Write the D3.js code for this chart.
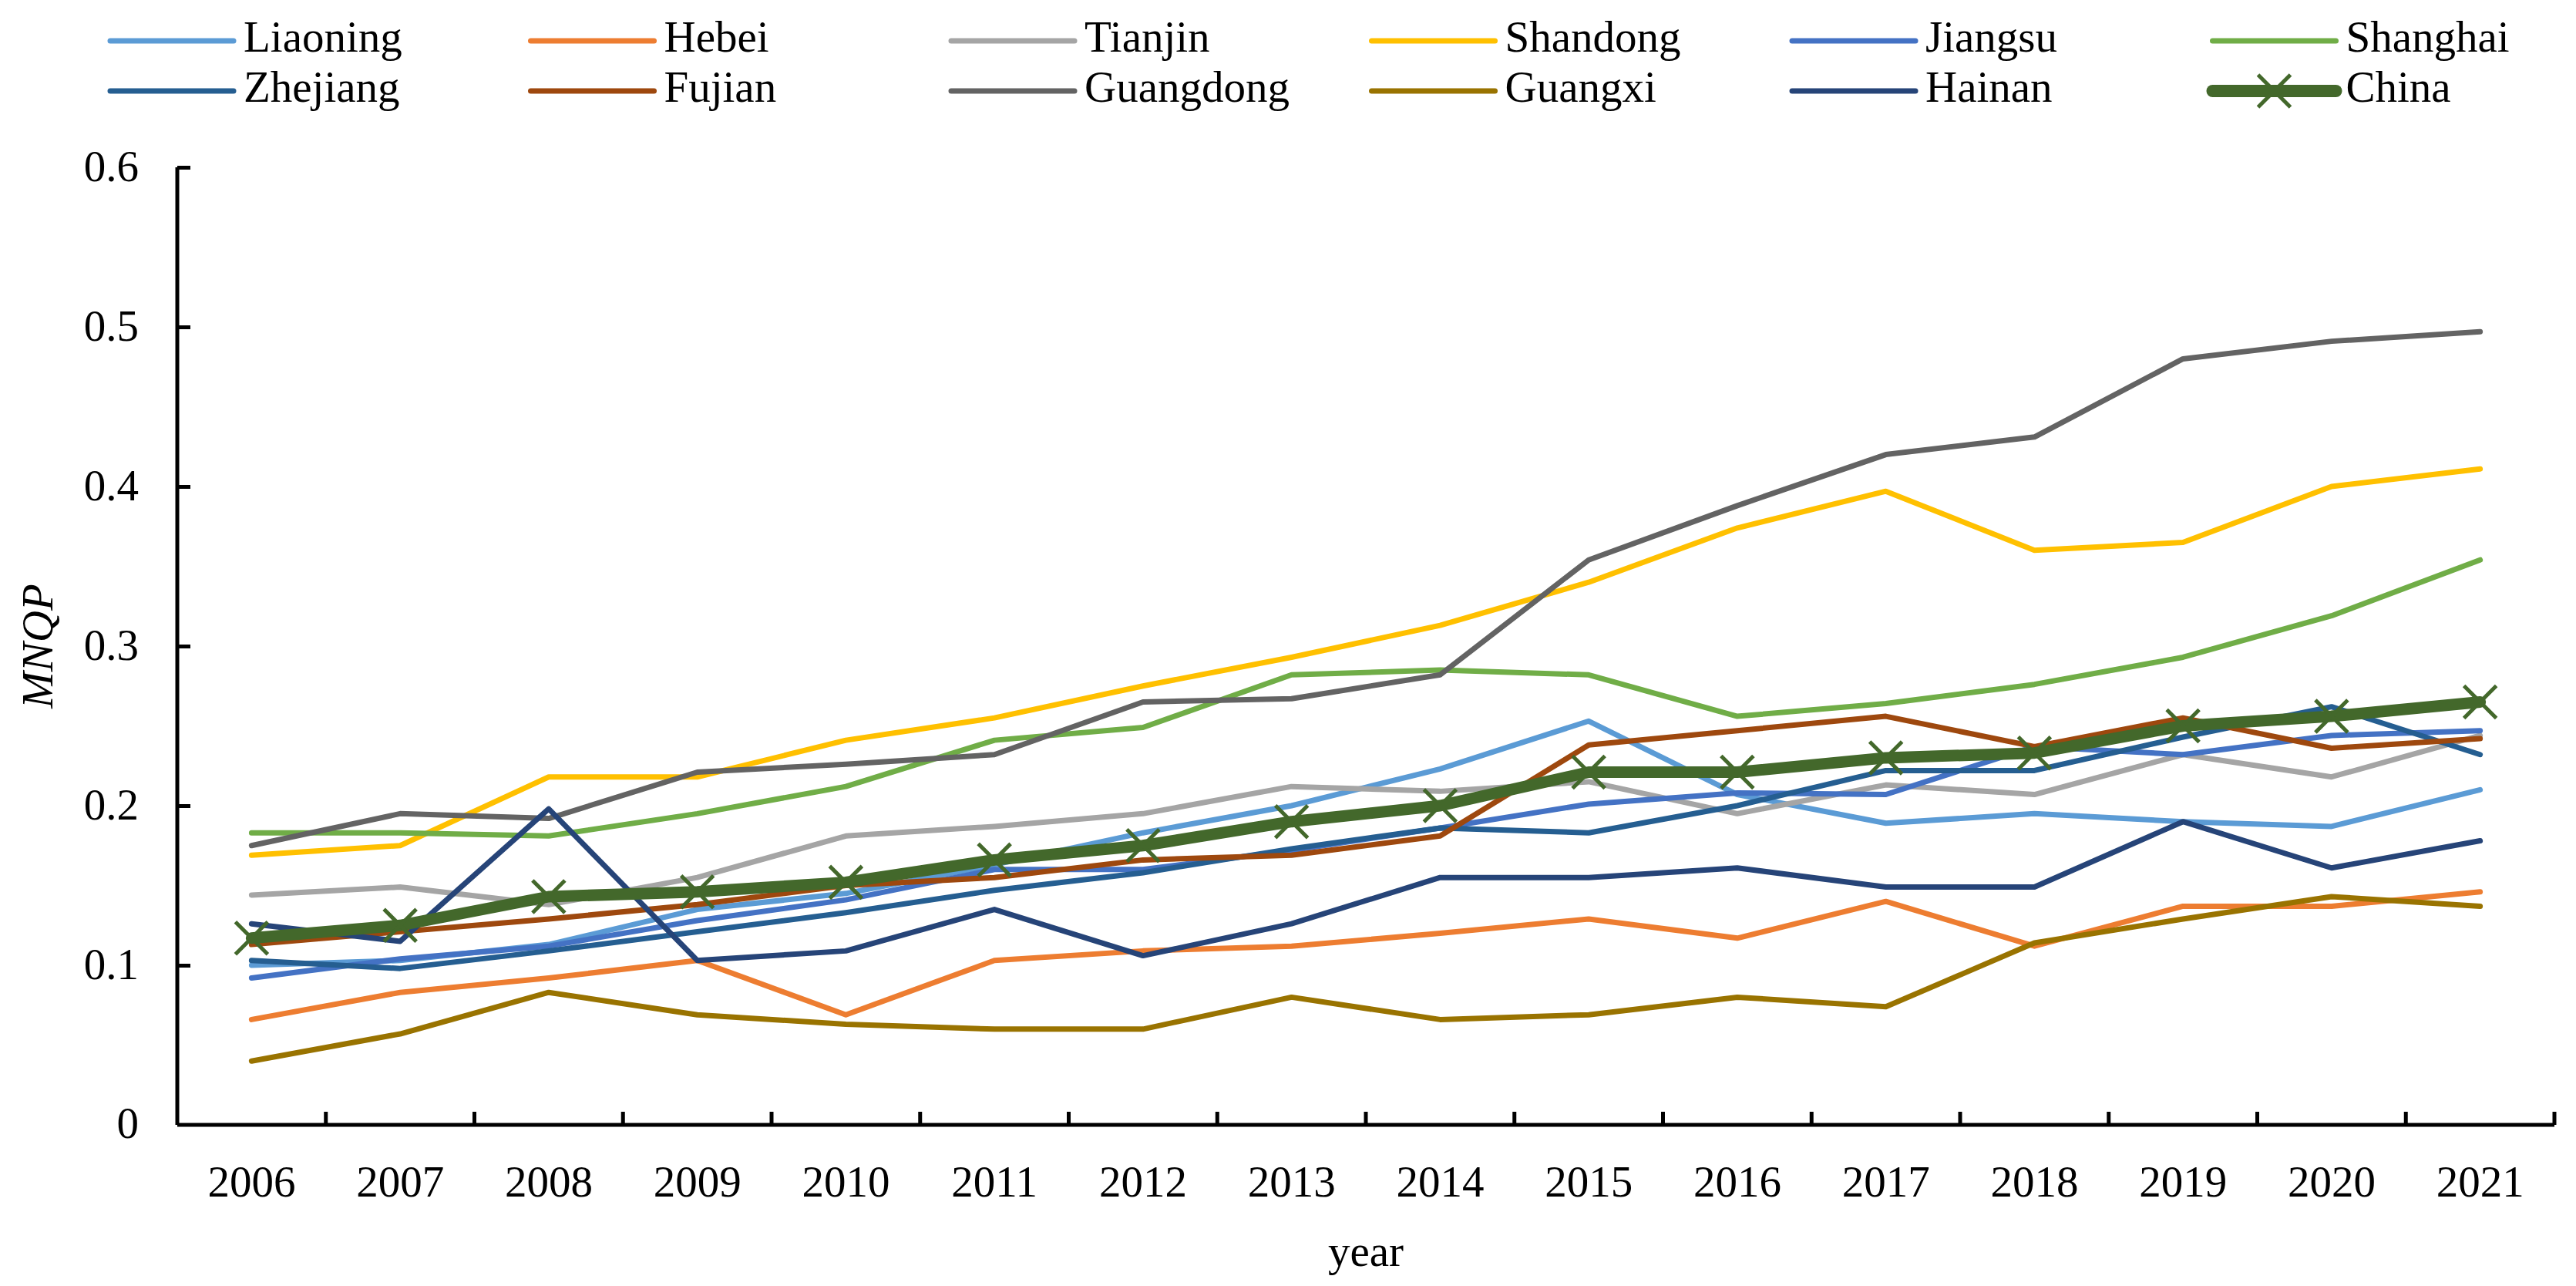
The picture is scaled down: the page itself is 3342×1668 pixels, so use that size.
<!DOCTYPE html>
<html>
<head>
<meta charset="utf-8">
<script src="https://cdn.jsdelivr.net/npm/d3@7"></script>
<style>
  html, body { margin: 0; padding: 0; background: #fff; }
  svg { display: block; font-family: "Liberation Serif", "Times New Roman", serif; }
</style>
</head>
<body>
<svg id="chart" width="3342" height="1668"></svg>
<script>
// ---- data ----
const years = ["2006","2007","2008","2009","2010","2011","2012","2013","2014","2015","2016","2017","2018","2019","2020","2021"];
const seriesNames = ["Liaoning","Hebei","Tianjin","Shandong","Jiangsu","Shanghai","Zhejiang","Fujian","Guangdong","Guangxi","Hainan","China"];
const seriesColors = ["#5B9BD5","#ED7D31","#A5A5A5","#FFC000","#4472C4","#70AD47","#255E91","#9E480E","#636363","#997300","#264478","#43682B"];
const liaoning  = [0.100,0.103,0.113,0.135,0.145,0.163,0.183,0.200,0.223,0.253,0.207,0.189,0.195,0.190,0.187,0.210];
const hebei     = [0.066,0.083,0.092,0.103,0.069,0.103,0.109,0.112,0.120,0.129,0.117,0.140,0.112,0.137,0.137,0.146];
const tianjin   = [0.144,0.149,0.138,0.155,0.181,0.187,0.195,0.212,0.209,0.215,0.195,0.213,0.207,0.232,0.218,0.244];
const shandong  = [0.169,0.175,0.218,0.218,0.241,0.255,0.275,0.293,0.313,0.340,0.374,0.397,0.360,0.365,0.400,0.411];
const jiangsu   = [0.092,0.104,0.112,0.128,0.141,0.160,0.160,0.172,0.186,0.201,0.208,0.207,0.237,0.232,0.244,0.247];
const shanghai  = [0.183,0.183,0.181,0.195,0.212,0.241,0.249,0.282,0.285,0.282,0.256,0.264,0.276,0.293,0.319,0.354];
const zhejiang  = [0.103,0.098,0.109,0.121,0.133,0.147,0.158,0.173,0.186,0.183,0.200,0.222,0.222,0.243,0.262,0.232];
const fujian    = [0.113,0.121,0.129,0.138,0.150,0.155,0.166,0.169,0.181,0.238,0.247,0.256,0.237,0.255,0.236,0.242];
const guangdong = [0.175,0.195,0.192,0.221,0.226,0.232,0.265,0.267,0.282,0.354,0.388,0.420,0.431,0.480,0.491,0.497];
const guangxi   = [0.040,0.057,0.083,0.069,0.063,0.060,0.060,0.080,0.066,0.069,0.080,0.074,0.114,0.129,0.143,0.137];
const hainan    = [0.126,0.115,0.198,0.103,0.109,0.135,0.106,0.126,0.155,0.155,0.161,0.149,0.149,0.190,0.161,0.178];
const china     = [0.117,0.125,0.143,0.146,0.152,0.166,0.175,0.190,0.200,0.221,0.221,0.230,0.233,0.250,0.256,0.265];
const yTicks = [0, 0.1, 0.2, 0.3, 0.4, 0.5, 0.6];
const yTickLabels = ["0","0.1","0.2","0.3","0.4","0.5","0.6"];
const xTitle = "year";
const yTitle = "MNQP";

const seriesValues = [liaoning,hebei,tianjin,shandong,jiangsu,shanghai,zhejiang,fujian,guangdong,guangxi,hainan,china];
const series = seriesNames.map((n,i) => ({name:n, color:seriesColors[i], values:seriesValues[i], isChina: n === "China"}));

// ---- layout ----
const svg = d3.select("#chart");
const pL = 230, pR = 3314, pT = 217, pB = 1459;

const x = d3.scaleBand().domain(years).range([pL, pR]).padding(0);
const y = d3.scaleLinear().domain([0, 0.6]).range([pB, pT]);
const cx = d => x(d) + x.bandwidth() / 2;

const FS = 57;

// lines
const line = d3.line().x((d,i) => cx(years[i])).y(d => y(d));
const gLines = svg.append("g");
series.forEach(s => {
  gLines.append("path")
    .attr("d", line(s.values))
    .attr("fill", "none")
    .attr("stroke", s.color)
    .attr("stroke-width", s.isChina ? 15 : 7)
    .attr("stroke-linejoin", "round")
    .attr("stroke-linecap", "round");
});

// China markers (x)
const ms = 21;
const chinaS = series.find(s => s.isChina);
const gMarks = svg.append("g");
chinaS.values.forEach((v,i) => {
  const px = cx(years[i]), py = y(v);
  gMarks.append("path")
    .attr("d", `M${px-ms},${py-ms}L${px+ms},${py+ms}M${px-ms},${py+ms}L${px+ms},${py-ms}`)
    .attr("stroke", chinaS.color).attr("stroke-width", 5).attr("fill","none");
});

// y axis
const yAxis = d3.axisLeft(y).tickValues(yTicks.slice(1))
  .tickFormat(d => yTickLabels[yTicks.indexOf(d)])
  .tickSize(-17).tickPadding(50);
const gy = svg.append("g").attr("transform", `translate(${pL},0)`).call(yAxis);
gy.select(".domain").attr("stroke", "#000").attr("stroke-width", 5).attr("d", `M0,${pT}V${pB}`);
gy.selectAll(".tick line").attr("stroke", "#000").attr("stroke-width", 5);
gy.selectAll(".tick text").attr("font-size", FS).attr("fill", "#000")
  .attr("font-family", "Liberation Serif").attr("dy", "0.3em");
// zero label
svg.append("text").attr("x", pL - 50).attr("y", y(0)).attr("dy", "0.3em")
  .attr("text-anchor", "end").attr("font-size", FS).text(yTickLabels[0]);

// x axis
const xAxis = d3.axisBottom(x).tickSize(0).tickPadding(53);
const gx = svg.append("g").attr("transform", `translate(0,${pB})`).call(xAxis);
gx.select(".domain").attr("stroke", "#000").attr("stroke-width", 5).attr("d", `M${pL},0H${pR}`);
gx.selectAll(".tick text").attr("font-size", FS).attr("fill", "#000").attr("font-family", "Liberation Serif");
// inward category boundary ticks
const bounds = years.slice(1).map(d => x(d)).concat([pR]);
gx.selectAll(".btick").data(bounds).enter().append("line")
  .attr("x1", d => d).attr("x2", d => d).attr("y1", 0).attr("y2", -17)
  .attr("stroke", "#000").attr("stroke-width", 5);

// axis titles
svg.append("text").attr("x", (pL + pR) / 2).attr("y", 1642)
  .attr("text-anchor", "middle").attr("font-size", FS).text(xTitle);
svg.append("text")
  .attr("transform", `translate(68,${(pT + pB) / 2}) rotate(-90)`)
  .attr("text-anchor", "middle").attr("font-size", FS).attr("font-style", "italic").text(yTitle);

// legend
const gLeg = svg.append("g");
series.forEach((s,i) => {
  const col = i % 6, row = Math.floor(i / 6);
  const lx = 143 + col * 545.5, ly = 53 + row * 65;
  const g = gLeg.append("g");
  g.append("line").attr("x1", lx).attr("x2", lx + 160).attr("y1", ly).attr("y2", ly)
    .attr("stroke", s.color).attr("stroke-width", s.isChina ? 16 : 7).attr("stroke-linecap", "round");
  if (s.isChina) {
    const mx = lx + 80;
    g.append("path")
      .attr("d", `M${mx-ms},${ly-ms}L${mx+ms},${ly+ms}M${mx-ms},${ly+ms}L${mx+ms},${ly-ms}`)
      .attr("stroke", s.color).attr("stroke-width", 5);
  }
  g.append("text").attr("x", lx + 173).attr("y", ly + 14).attr("font-size", FS).text(s.name);
});
</script>
</body>
</html>
